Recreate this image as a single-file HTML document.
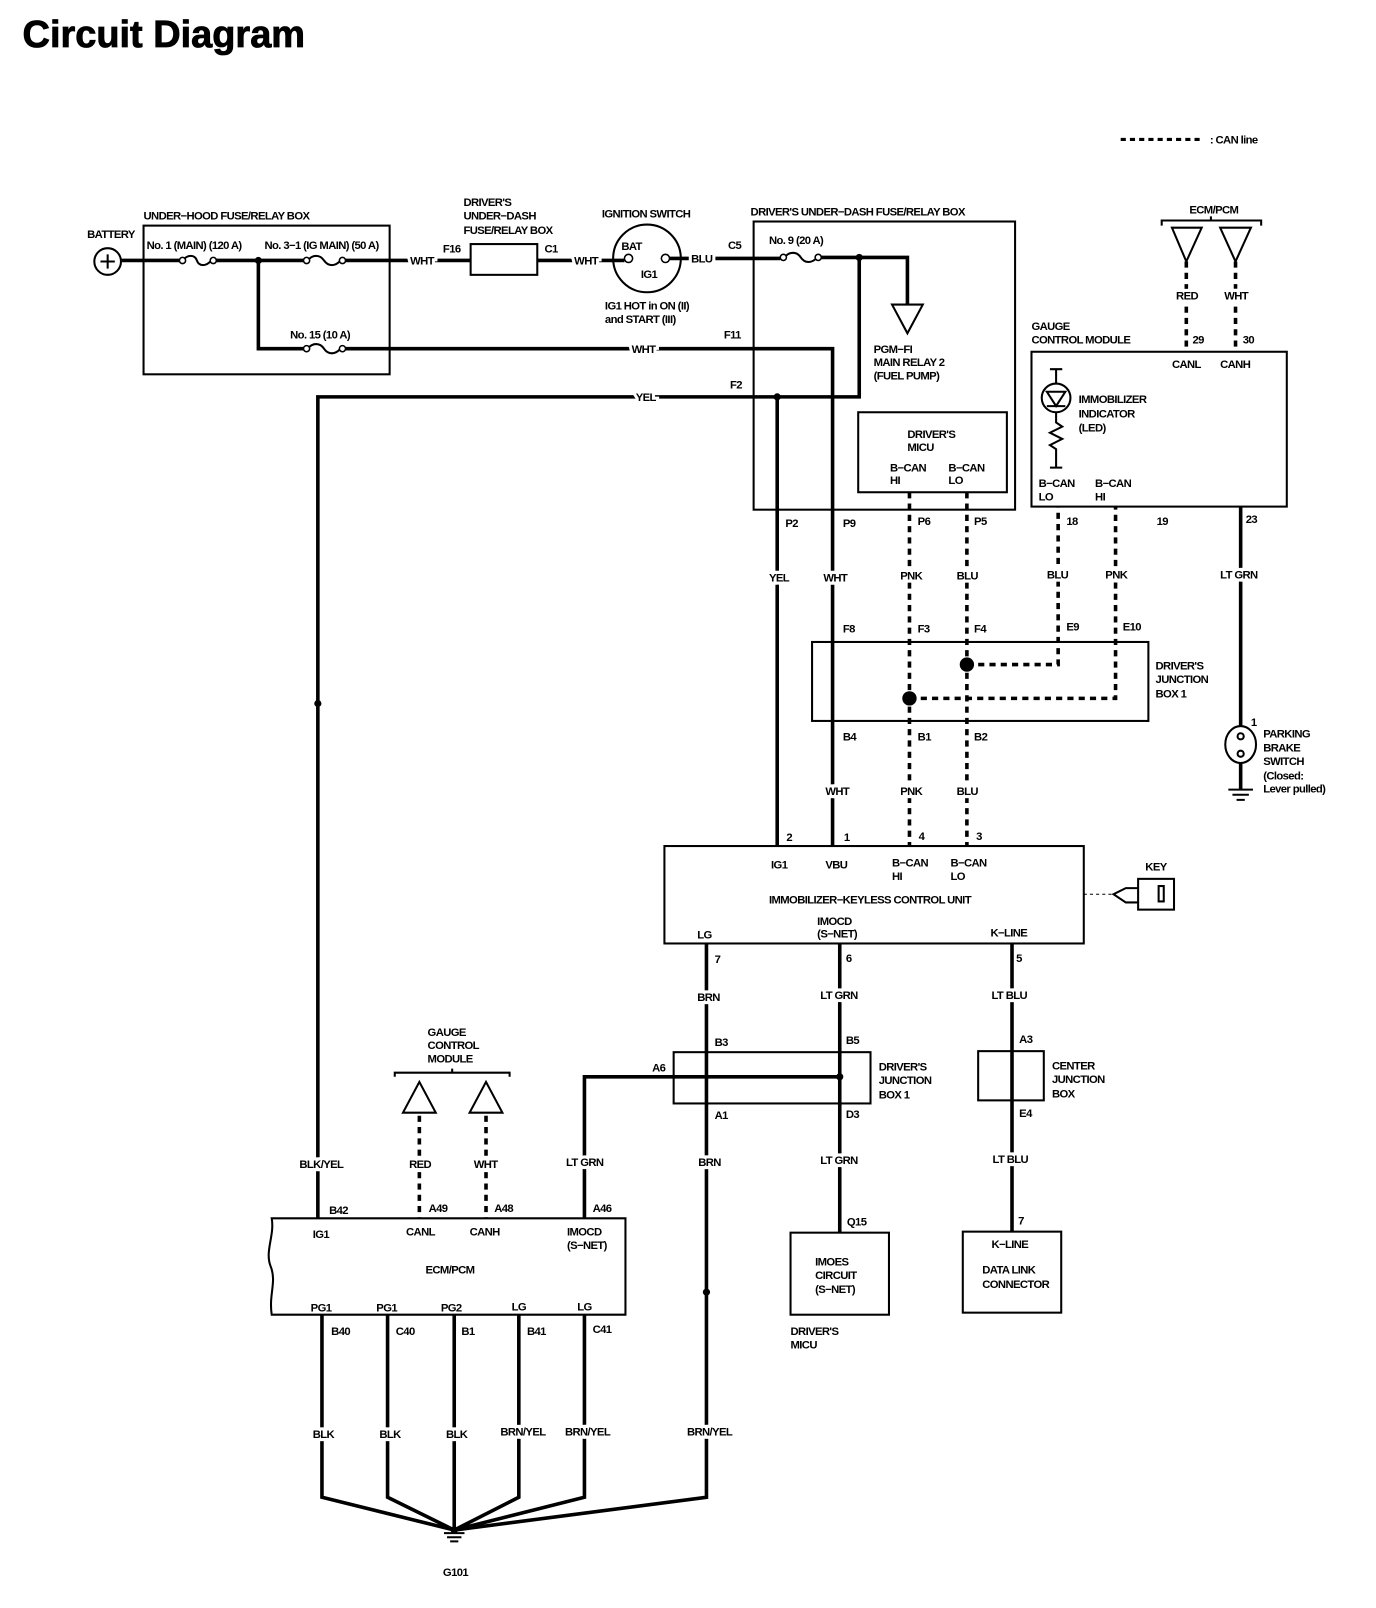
<!DOCTYPE html>
<html><head><meta charset="utf-8"><style>
html,body{margin:0;padding:0;background:#fff;}
svg{display:block}
text{font-family:"Liberation Sans",sans-serif;font-weight:bold;font-size:11px;letter-spacing:-0.6px;fill:#000}
.w{stroke:#fff;stroke-width:6px;paint-order:stroke}
.t{font-size:37px;letter-spacing:0px;stroke:#000;stroke-width:0.8px}
</style></head><body>
<svg width="1376" height="1608" viewBox="0 0 1342 1568" preserveAspectRatio="none" xmlns="http://www.w3.org/2000/svg">
<text class="t" x="22" y="46">Circuit Diagram</text>
<line x1="1093" y1="136" x2="1173" y2="136" stroke="#000" stroke-width="3" stroke-dasharray="5,4"/>
<text x="1180" y="140">: CAN line</text>

<g fill="none" stroke="#000" stroke-width="2">
 <rect x="140" y="220" width="240" height="145"/>
 <rect x="459" y="238" width="65" height="30"/>
 <circle cx="631" cy="252" r="33"/>
 <rect x="735" y="216" width="255" height="281"/>
 <rect x="837" y="402" width="145" height="78"/>
 <rect x="1006" y="343" width="249" height="151"/>
 <rect x="792" y="626" width="328" height="77"/>
 <rect x="648" y="825" width="409" height="95"/>
 <rect x="657" y="1026" width="192" height="50"/>
 <rect x="954" y="1025" width="64" height="48"/>
 <rect x="771" y="1202" width="96" height="80"/>
 <rect x="939" y="1201" width="96" height="79"/>
 <path d="M265,1188 H610 V1282 H265 C262,1262 270,1250 264,1235 C258,1220 268,1205 265,1188 Z"/>
 <circle cx="105" cy="255" r="13"/>
 <path d="M98,255 H112 M105,248 V262"/>
 <path d="M870,297 H900 L885,325 Z"/>
 <path d="M1143,222 H1172 L1157,255 Z"/>
 <path d="M1190,222 H1220 L1205,255 Z"/>
 <path d="M393,1085 H425 L409,1055 Z"/>
 <path d="M458,1085 H490 L474,1055 Z"/>
 <path d="M1133,220 V215 H1230 V220 M1181,215 V211"/>
 <path d="M385,1050 V1046 H497 V1050 M441,1046 V1042"/>
 <circle cx="1030" cy="388" r="14"/>
 <path d="M1021,382 H1039 L1030,396 Z M1021,396 H1039 M1030,360 V374 M1030,402 V412 L1036,416 L1024,422 L1036,428 L1024,434 L1030,438 V456 M1024,360 H1036 M1024,456 H1036"/>
 <ellipse cx="1210" cy="726" rx="15" ry="18"/>
 <circle cx="1210" cy="718" r="3"/><circle cx="1210" cy="735" r="3"/>
 <rect x="1110" y="857" width="35" height="30"/>
 <path d="M1110,866 H1098 L1086,872 L1098,880 H1110"/>
 <rect x="1130" y="864" width="5" height="15"/>
 <path d="M178,254 C183,248 190,248 192,254 C194,260 201,260 206,254"/>
 <path d="M300,254 C305,248 312,248 316,254 C320,260 327,260 332,254"/>
 <path d="M300,340 C305,334 312,334 316,340 C320,346 327,346 332,340"/>
 <path d="M765,251 C770,245 777,245 781,251 C785,257 792,257 797,251"/>
</g>
<g fill="#fff" stroke="#000" stroke-width="1.5">
 <circle cx="178" cy="254" r="3"/><circle cx="208" cy="254" r="3"/>
 <circle cx="299" cy="254" r="3"/><circle cx="334" cy="254" r="3"/>
 <circle cx="299" cy="340" r="3"/><circle cx="334" cy="340" r="3"/>
 <circle cx="764" cy="251" r="3"/><circle cx="798" cy="251" r="3"/>
 <circle cx="613" cy="252" r="4"/><circle cx="649" cy="252" r="4"/>
</g>

<g fill="none" stroke="#000" stroke-width="3.5">
 <path d="M118,254 H175 M211,254 H296 M337,254 H459 M524,254 H609 M653,252 H761 M801,251 H885 V297"/>
 <path d="M252,254 V340 H296 M337,340 H812 V825"/>
 <path d="M838,251 V387 H310 V1188"/>
 <path d="M758,387 V825"/>
 <path d="M1210,494 V708 M1210,744 V770"/>
 <path d="M689,920 V1460 L443,1492"/>
 <path d="M819,920 V1202"/>
 <path d="M819,1050 H570 V1188"/>
 <path d="M987,920 V1201"/>
 <path d="M314,1282 V1460 L443,1492 M378,1282 V1460 L443,1492 M443,1282 V1492 M506,1282 V1460 L443,1492 M570,1282 V1460 L443,1492"/>
</g>
<g stroke="#000" stroke-width="2">
 <path d="M1198,770 H1222 M1202,775 H1218 M1206,780 H1214"/>
 <path d="M433,1495 H453 M436,1499 H450 M439,1503 H447"/>
</g>
<g fill="none" stroke="#000" stroke-width="3.5" stroke-dasharray="6,5">
 <path d="M887,480 V825 M943,480 V825"/>
 <path d="M943,648 H1032 V494 M887,681 H1088 V494"/>
 <path d="M1157,255 V343 M1205,255 V343"/>
 <path d="M409,1088 V1188 M474,1088 V1188"/>
</g>
<path d="M1057,872 H1085" stroke="#000" stroke-width="1" stroke-dasharray="3,3"/>
<g fill="#000">
 <circle cx="252" cy="254" r="3.5"/><circle cx="838" cy="251" r="3.5"/>
 <circle cx="758" cy="387" r="3.5"/><circle cx="310" cy="686" r="3.5"/>
 <circle cx="943" cy="648" r="7"/><circle cx="887" cy="681" r="7"/>
 <circle cx="819" cy="1050" r="3.5"/><circle cx="689" cy="1260" r="3.5"/>
 <circle cx="443" cy="1492" r="3.5"/>
</g>

<text x="85" y="232">BATTERY</text>
<text x="140" y="214">UNDER−HOOD FUSE/RELAY BOX</text>
<text x="143" y="243">No. 1 (MAIN) (120 A)</text>
<text x="258" y="243">No. 3−1 (IG MAIN) (50 A)</text>
<text x="283" y="330">No. 15 (10 A)</text>
<text class="w" x="400" y="258">WHT</text>
<text x="452" y="201">DRIVER'S</text><text x="452" y="214">UNDER−DASH</text><text x="452" y="228">FUSE/RELAY BOX</text>
<text x="432" y="246">F16</text><text x="531" y="246">C1</text>
<text class="w" x="560" y="258">WHT</text>
<text x="587" y="212">IGNITION SWITCH</text>
<text x="606" y="244">BAT</text><text x="625" y="271">IG1</text>
<text x="590" y="302">IG1 HOT in ON (II)</text><text x="590" y="315">and START (III)</text>
<text class="w" x="674" y="256">BLU</text>
<text x="732" y="210">DRIVER'S UNDER−DASH FUSE/RELAY BOX</text>
<text x="710" y="243">C5</text><text x="750" y="238">No. 9 (20 A)</text>
<text x="852" y="344">PGM−FI</text><text x="852" y="357">MAIN RELAY 2</text><text x="852" y="370">(FUEL PUMP)</text>
<text x="706" y="330">F11</text><text class="w" x="616" y="344">WHT</text>
<text x="712" y="379">F2</text><text class="w" x="620" y="391">YEL</text>
<text x="885" y="427">DRIVER'S</text><text x="885" y="440">MICU</text>
<text x="868" y="460">B−CAN</text><text x="868" y="472">HI</text>
<text x="925" y="460">B−CAN</text><text x="925" y="472">LO</text>
<text x="766" y="514">P2</text><text x="822" y="514">P9</text><text x="895" y="512">P6</text><text x="950" y="512">P5</text>
<text class="w" x="750" y="567">YEL</text><text class="w" x="803" y="567">WHT</text>
<text class="w" x="878" y="565">PNK</text><text class="w" x="933" y="565">BLU</text>
<text x="1160" y="208">ECM/PCM</text>
<text class="w" x="1147" y="292">RED</text><text class="w" x="1194" y="292">WHT</text>
<text x="1006" y="322">GAUGE</text><text x="1006" y="335">CONTROL MODULE</text>
<text x="1163" y="335">29</text><text x="1212" y="335">30</text>
<text x="1143" y="359">CANL</text><text x="1190" y="359">CANH</text>
<text x="1052" y="393">IMMOBILIZER</text><text x="1052" y="407">INDICATOR</text><text x="1052" y="421">(LED)</text>
<text x="1013" y="475">B−CAN</text><text x="1013" y="488">LO</text>
<text x="1068" y="475">B−CAN</text><text x="1068" y="488">HI</text>
<text x="1040" y="512">18</text><text x="1128" y="512">19</text><text x="1215" y="510">23</text>
<text class="w" x="1021" y="564">BLU</text><text class="w" x="1078" y="564">PNK</text><text class="w" x="1190" y="564">LT GRN</text>
<text x="822" y="617">F8</text><text x="895" y="617">F3</text><text x="950" y="617">F4</text>
<text x="1040" y="615">E9</text><text x="1095" y="615">E10</text>
<text x="1127" y="653">DRIVER'S</text><text x="1127" y="666">JUNCTION</text><text x="1127" y="680">BOX 1</text>
<text x="822" y="722">B4</text><text x="895" y="722">B1</text><text x="950" y="722">B2</text>
<text class="w" x="805" y="775">WHT</text><text class="w" x="878" y="775">PNK</text><text class="w" x="933" y="775">BLU</text>
<text x="1220" y="708">1</text>
<text x="1232" y="719">PARKING</text><text x="1232" y="733">BRAKE</text><text x="1232" y="746">SWITCH</text>
<text x="1232" y="760">(Closed:</text><text x="1232" y="773">Lever pulled)</text>
<text x="767" y="820">2</text><text x="823" y="820">1</text><text x="896" y="819">4</text><text x="952" y="819">3</text>
<text x="752" y="847">IG1</text><text x="805" y="847">VBU</text>
<text x="870" y="845">B−CAN</text><text x="870" y="858">HI</text>
<text x="927" y="845">B−CAN</text><text x="927" y="858">LO</text>
<text x="750" y="881">IMMOBILIZER−KEYLESS CONTROL UNIT</text>
<text x="680" y="915">LG</text>
<text x="797" y="902">IMOCD</text><text x="797" y="914">(S−NET)</text>
<text x="966" y="913">K−LINE</text>
<text x="1117" y="849">KEY</text>
<text x="697" y="939">7</text><text x="825" y="938">6</text><text x="991" y="938">5</text>
<text class="w" x="680" y="976">BRN</text><text class="w" x="800" y="974">LT GRN</text><text class="w" x="967" y="974">LT BLU</text>
<text x="697" y="1020">B3</text><text x="825" y="1018">B5</text><text x="994" y="1017">A3</text>
<text x="636" y="1045">A6</text>
<text x="857" y="1044">DRIVER'S</text><text x="857" y="1057">JUNCTION</text><text x="857" y="1071">BOX 1</text>
<text x="1026" y="1043">CENTER</text><text x="1026" y="1056">JUNCTION</text><text x="1026" y="1070">BOX</text>
<text x="697" y="1091">A1</text><text x="825" y="1090">D3</text><text x="994" y="1089">E4</text>
<text x="417" y="1010">GAUGE</text><text x="417" y="1023">CONTROL</text><text x="417" y="1036">MODULE</text>
<text class="w" x="292" y="1139">BLK/YEL</text><text class="w" x="399" y="1139">RED</text><text class="w" x="462" y="1139">WHT</text>
<text class="w" x="552" y="1137">LT GRN</text><text class="w" x="681" y="1137">BRN</text>
<text class="w" x="800" y="1135">LT GRN</text><text class="w" x="968" y="1134">LT BLU</text>
<text x="321" y="1184">B42</text><text x="418" y="1182">A49</text><text x="482" y="1182">A48</text><text x="578" y="1182">A46</text>
<text x="826" y="1195">Q15</text><text x="993" y="1194">7</text>
<text x="305" y="1207">IG1</text><text x="396" y="1205">CANL</text><text x="458" y="1205">CANH</text>
<text x="553" y="1205">IMOCD</text><text x="553" y="1218">(S−NET)</text>
<text x="415" y="1242">ECM/PCM</text>
<text x="795" y="1234">IMOES</text><text x="795" y="1247">CIRCUIT</text><text x="795" y="1261">(S−NET)</text>
<text x="967" y="1217">K−LINE</text><text x="958" y="1242">DATA LINK</text><text x="958" y="1256">CONNECTOR</text>
<text x="771" y="1302">DRIVER'S</text><text x="771" y="1315">MICU</text>
<text x="303" y="1279">PG1</text><text x="367" y="1279">PG1</text><text x="430" y="1279">PG2</text><text x="499" y="1278">LG</text><text x="563" y="1278">LG</text>
<text x="323" y="1302">B40</text><text x="386" y="1302">C40</text><text x="450" y="1302">B1</text><text x="514" y="1302">B41</text><text x="578" y="1300">C41</text>
<text class="w" x="305" y="1402">BLK</text><text class="w" x="370" y="1402">BLK</text><text class="w" x="435" y="1402">BLK</text>
<text class="w" x="488" y="1400">BRN/YEL</text><text class="w" x="551" y="1400">BRN/YEL</text><text class="w" x="670" y="1400">BRN/YEL</text>
<text x="432" y="1537">G101</text>
</svg>
</body></html>
